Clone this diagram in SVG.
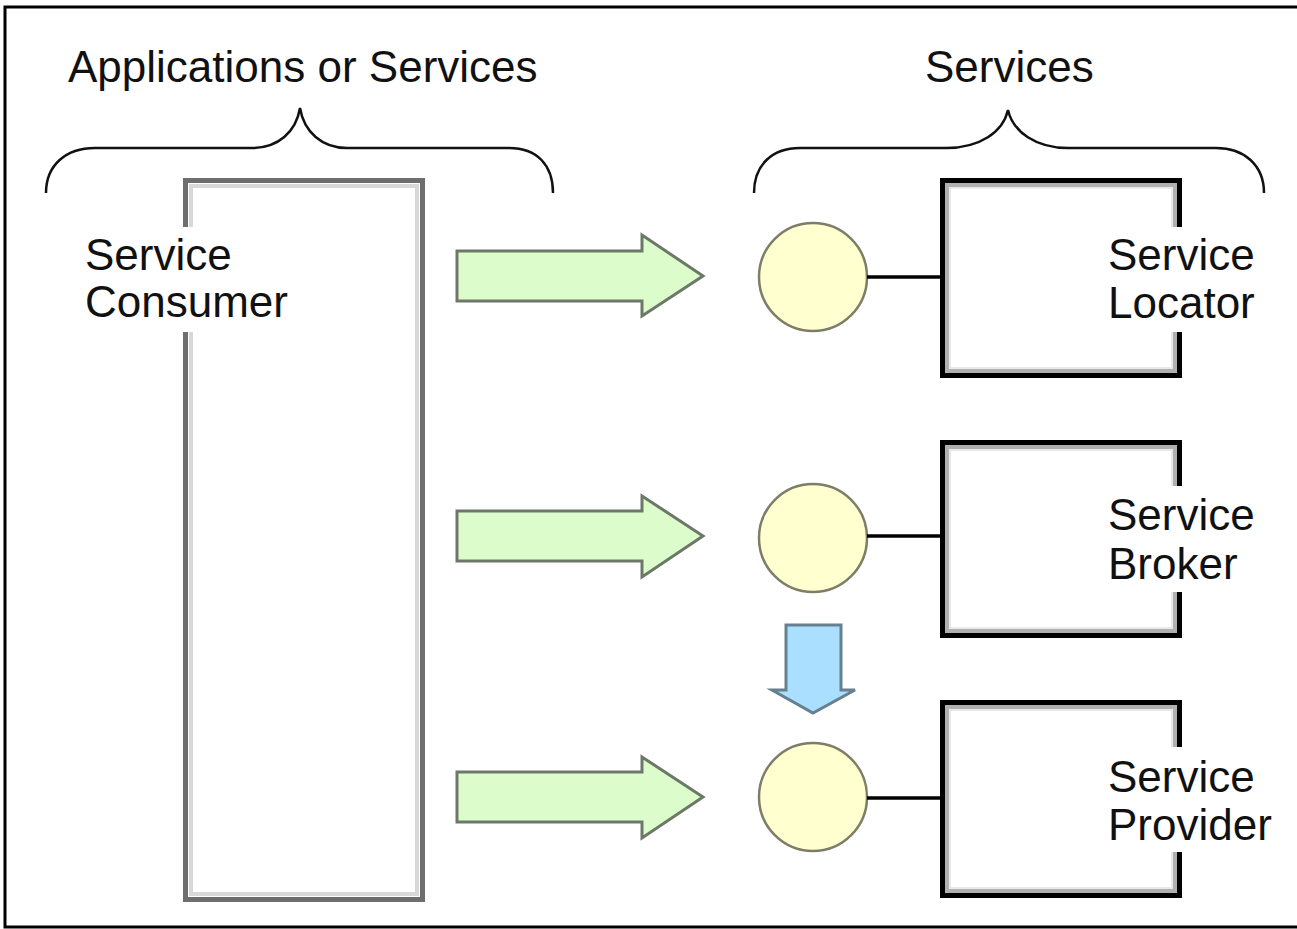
<svg xmlns="http://www.w3.org/2000/svg" width="1297" height="929" viewBox="0 0 1297 929">
<style>
text{font-family:"Liberation Sans",Arial,sans-serif;font-size:44px;fill:#111}
.brace{fill:none;stroke:#111;stroke-width:2.5}
.garrow{fill:#dcfccc;stroke:#6c7868;stroke-width:3;stroke-linejoin:miter}
.barrow{fill:#aadfff;stroke:#66808f;stroke-width:3}
.circ{fill:#ffffd0;stroke:#7d7d68;stroke-width:2.5}
.link{stroke:#000;stroke-width:3.5}
.sout{fill:#fff;stroke:#000;stroke-width:5}
.sin1{fill:none;stroke:#b0b0b0;stroke-width:4}
.sin2{fill:none;stroke:#e8e8e8;stroke-width:2}
.cout{fill:#fff;stroke:#6e6e6e;stroke-width:5}
.cin{fill:none;stroke:#d8d8d8;stroke-width:4}
.mask{fill:#fff}
</style>
<rect x="0" y="0" width="1297" height="929" fill="#fff"/>
<rect x="5" y="7" width="1310" height="920" fill="none" stroke="#000" stroke-width="3"/>

<g id="label-apps">
<text x="68" y="82">Applications or Services</text>
<path class="brace" d="M46,193 C46,165 66,148 95,148 L252,148 C278,148 296,132 300,108 C304,132 322,148 347,148 L509,148 C537,148 553,165 553,193"/>
</g>
<g id="label-services">
<text x="925" y="82">Services</text>
<path class="brace" d="M754,193 C754,165 772,148 800,148 L946,148 C980,148 1003,132 1008,110 C1013,132 1036,148 1068,148 L1216,148 C1244,148 1264,165 1264,193"/>
</g>

<g id="consumer">
<rect class="cout" x="185.5" y="180.5" width="237" height="719"/>
<rect class="cin" x="191" y="186" width="226" height="708"/>
<rect class="mask" x="80" y="227" width="215" height="105"/>
<text x="85" y="270">Service</text>
<text x="85" y="317">Consumer</text>
</g>

<g id="locator-iface"><circle class="circ" cx="813" cy="277" r="54"/></g>
<g id="broker-iface"><circle class="circ" cx="813" cy="538" r="54"/></g>
<g id="provider-iface"><circle class="circ" cx="813" cy="797" r="54"/></g>

<g id="locator">
<rect class="sout" x="942.5" y="180.5" width="237" height="195"/>
<rect class="sin1" x="947" y="185" width="228" height="186"/>
<rect class="sin2" x="950" y="188" width="222" height="180"/>
<rect class="mask" x="1100" y="227" width="180" height="105"/>
<text x="1108" y="270">Service</text>
<text x="1108" y="318">Locator</text>
</g>
<g id="broker">
<rect class="sout" x="942.5" y="442.5" width="237" height="193"/>
<rect class="sin1" x="947" y="447" width="228" height="184"/>
<rect class="sin2" x="950" y="450" width="222" height="178"/>
<rect class="mask" x="1100" y="486" width="180" height="106"/>
<text x="1108" y="530">Service</text>
<text x="1108" y="579">Broker</text>
</g>
<g id="provider">
<rect class="sout" x="942.5" y="702.5" width="237" height="193"/>
<rect class="sin1" x="947" y="707" width="228" height="184"/>
<rect class="sin2" x="950" y="710" width="222" height="178"/>
<rect class="mask" x="1100" y="747" width="180" height="105"/>
<text x="1108" y="792">Service</text>
<text x="1108" y="840">Provider</text>
</g>

<g id="connectors">
<polygon class="garrow" points="457,251 642,251 642,235 703,276 642,316 642,301 457,301"/>
<polygon class="garrow" points="457,511 642,511 642,496 703,536 642,577 642,561 457,561"/>
<polygon class="garrow" points="457,772 642,772 642,757 703,797 642,838 642,822 457,822"/>
<polygon class="barrow" points="786,625 841,625 841,690 855,690 813,713 772,690 786,690"/>
<line class="link" x1="867" y1="277" x2="942" y2="277"/>
<line class="link" x1="867" y1="536" x2="942" y2="536"/>
<line class="link" x1="867" y1="798" x2="942" y2="798"/>
</g>
</svg>
